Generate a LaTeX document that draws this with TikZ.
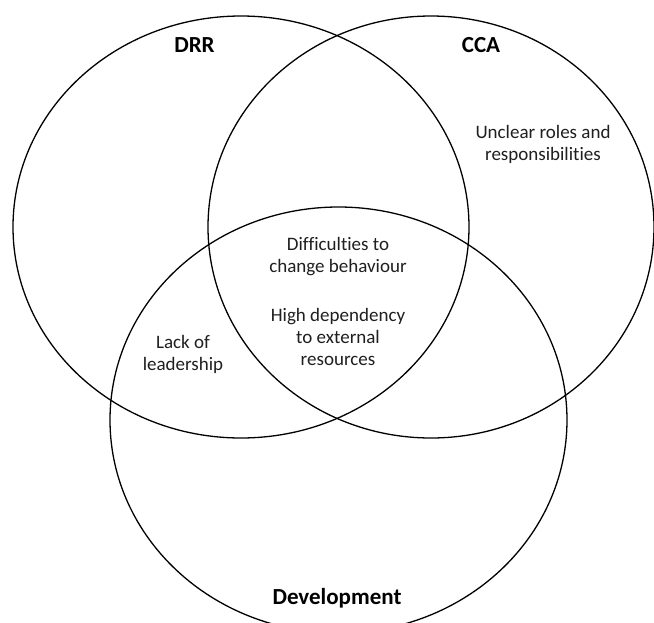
\documentclass[tikz,border=0pt]{standalone}
\usepackage{fontspec}
\setmainfont[Ligatures={NoCommon}]{Carlito}
\usetikzlibrary{shapes.geometric}
\tikzset{
  setring/.style={ellipse, draw=black, line width=1.3pt, inner sep=0pt, fill=none},
  settitle/.style={font=\fontsize{23}{28}\selectfont\bfseries, inner sep=0pt},
  settext/.style={font=\fontsize{19}{22}\selectfont, text=black!88, align=center, inner sep=0pt}
}
\begin{document}
\begin{tikzpicture}[x=1pt,y=-1pt]
\useasboundingbox (0,0) rectangle (654,622);
\fill[white] (0,0) rectangle (654,622);
\node[setring, minimum width=456pt, minimum height=422pt] (drr) at (241,227) {};
\node[setring, minimum width=446pt, minimum height=422pt] (cca) at (431,227) {};
\node[setring, minimum width=457pt, minimum height=426pt] (dev) at (338.5,420) {};
\node[settitle] (drrlabel) at (194.5,45) {DRR};
\node[settitle] (ccalabel) at (481,45) {CCA};
\node[settitle] (devlabel) at (337,598) {Development};
\node[settext] (unclear) at (543,144) {Unclear roles and\\responsibilities};
\node[settext] (lack) at (183,354) {Lack of\\leadership};
\node[settext] (diff) at (338,257) {Difficulties to\\change behaviour};
\node[settext] (high) at (338,337) {High dependency\\to external\\resources};
\end{tikzpicture}
\end{document}
